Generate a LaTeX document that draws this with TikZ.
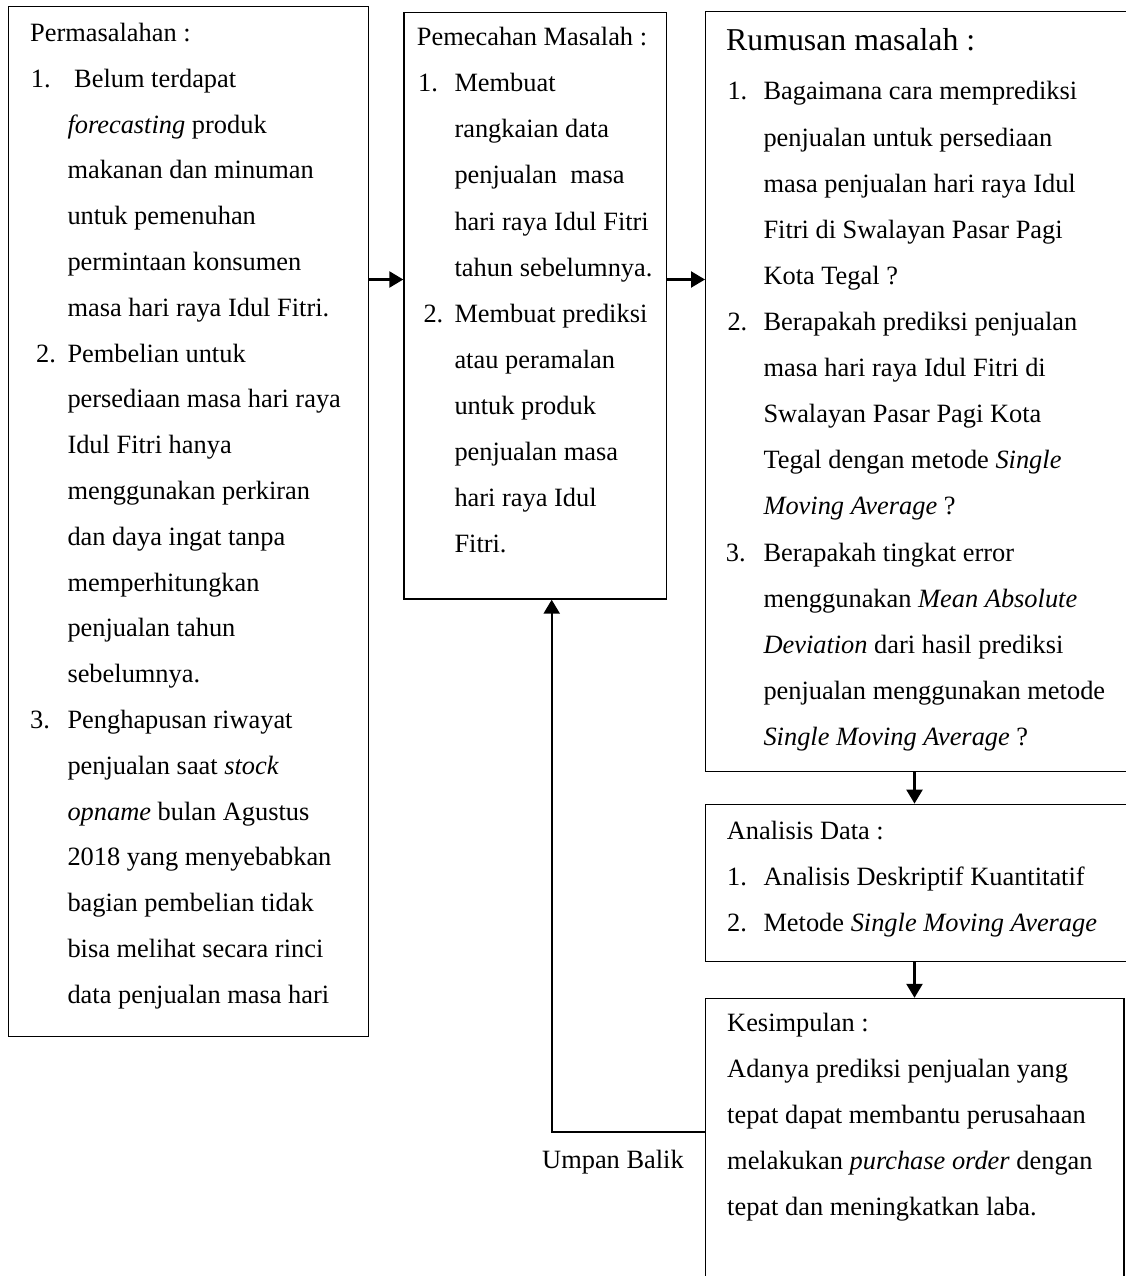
\documentclass[tikz,border=0pt]{standalone}
\usepackage{fontspec}
\setmainfont{Liberation Serif}
\usetikzlibrary{arrows.meta}
\begin{document}
\begin{tikzpicture}[x=1pt,y=-1pt,
  box/.style={draw,line width=1.4pt,inner sep=0pt,rectangle},
  arr/.style={line width=2.4pt,-{Triangle[length=14pt,width=16pt]}},
  txt/.style={anchor=base west,inner sep=0pt,font=\fontsize{26.4}{30}\selectfont},
  big/.style={anchor=base west,inner sep=0pt,font=\fontsize{31.8}{36}\selectfont}]
\useasboundingbox (0,0) rectangle (1126,1276);
\clip (0,0) rectangle (1126,1276);
\fill[white] (0,0) rectangle (1126,1276);

% boxes
\node[box,minimum width=360pt,minimum height=1030pt] (b1) at (188.5,521.7) {};
\node[box,minimum width=262.7pt,minimum height=586.7pt] (b2) at (535.35,305.65) {};
\node[box,minimum width=434.3pt,minimum height=760pt] (b3) at (922.85,391.7) {};
\node[box,minimum width=434.3pt,minimum height=157.4pt] (b4) at (922.85,883) {};
\node[box,minimum width=418.3pt,minimum height=301.5pt] (b5) at (914.85,1149.25) {};

% connectors
\coordinate (ya) at (0,279.5);
\coordinate (xv) at (914.5,0);
\coordinate (fbturn) at (551.7,1132);
\draw[arr] (b1.east |- ya) -- (b2.west |- ya);
\draw[arr] (b2.east |- ya) -- (b3.west |- ya);
\draw[arr] (xv |- b3.south) -- (xv |- b4.north);
\draw[arr] (xv |- b4.south) -- (xv |- b5.north);
\draw[arr] (b5.west |- fbturn) -- (fbturn) -- (fbturn |- b2.south);
\node[txt] (ub) at (542,1168) {Umpan Balik};

% box 1 text
\node[txt] (p0) at (30,41.5) {Permasalahan :};
\node[txt] (pn1) at (30.7,87.3) {1.};
\node[txt] (p1) at (74,87.3) {Belum terdapat};
\node[txt] (pn2) at (36,362.1) {2.};
\node[txt] (pn3) at (30,728.5) {3.};
\foreach \t [count=\i from 2] in {
  \textit{forecasting} produk,
  makanan dan minuman,
  untuk pemenuhan,
  permintaan konsumen,
  masa hari raya Idul Fitri.,
  Pembelian untuk,
  persediaan masa hari raya,
  Idul Fitri hanya,
  menggunakan perkiran,
  dan daya ingat tanpa,
  memperhitungkan,
  penjualan tahun,
  sebelumnya.,
  Penghapusan riwayat,
  penjualan saat \textit{stock},
  \textit{opname} bulan Agustus,
  2018 yang menyebabkan,
  bagian pembelian tidak,
  bisa melihat secara rinci,
  data penjualan masa hari}
  \node[txt] (p\i) at (67.3,41.5+45.8*\i) {\t};

% box 2 text
\node[txt] (q0) at (416.7,45.7) {Pemecahan Masalah :};
\node[txt] (qn1) at (418,91.8) {1.};
\node[txt] (qn2) at (423.3,322.3) {2.};
\foreach \t [count=\i from 1] in {
  Membuat,
  rangkaian data,
  penjualan\ \ masa,
  hari raya Idul Fitri,
  tahun sebelumnya.,
  Membuat prediksi,
  atau peramalan,
  untuk produk,
  penjualan masa,
  hari raya Idul,
  Fitri.}
  \node[txt] (q\i) at (454.3,45.7+46.1*\i) {\t};

% box 3 text
\node[big] (r0) at (726,50.7) {Rumusan masalah :};
\node[txt] (rn1) at (727.3,100) {1.};
\node[txt] (rn2) at (727.3,330.5) {2.};
\node[txt] (rn3) at (725.7,561) {3.};
\foreach \t [count=\i from 1] in {
  Bagaimana cara memprediksi,
  penjualan untuk persediaan,
  masa penjualan hari raya Idul,
  Fitri di Swalayan Pasar Pagi,
  Kota Tegal ?,
  Berapakah prediksi penjualan,
  masa hari raya Idul Fitri di,
  Swalayan Pasar Pagi Kota,
  Tegal dengan metode \textit{Single},
  \textit{Moving Average} ?,
  Berapakah tingkat error,
  menggunakan \textit{Mean Absolute},
  \textit{Deviation} dari hasil prediksi,
  penjualan menggunakan metode,
  \textit{Single Moving Average} ?}
  \node[txt] (r\i) at (763.3,100+46.1*\i-46.1) {\t};

% box 4 text
\node[txt] (a0) at (726.7,839.3) {Analisis Data :};
\node[txt] (an1) at (727,885.3) {1.};
\node[txt] (a1) at (763.3,885.3) {Analisis Deskriptif Kuantitatif};
\node[txt] (an2) at (727,931.3) {2.};
\node[txt] (a2) at (763.3,931.3) {Metode \textit{Single Moving Average}};

% box 5 text
\foreach \t [count=\i from 0] in {
  Kesimpulan :,
  Adanya prediksi penjualan yang,
  tepat dapat membantu perusahaan,
  melakukan \textit{purchase order} dengan,
  tepat dan meningkatkan laba.}
  \node[txt] (k\i) at (727,1031.7+46*\i) {\t};
\end{tikzpicture}
\end{document}
